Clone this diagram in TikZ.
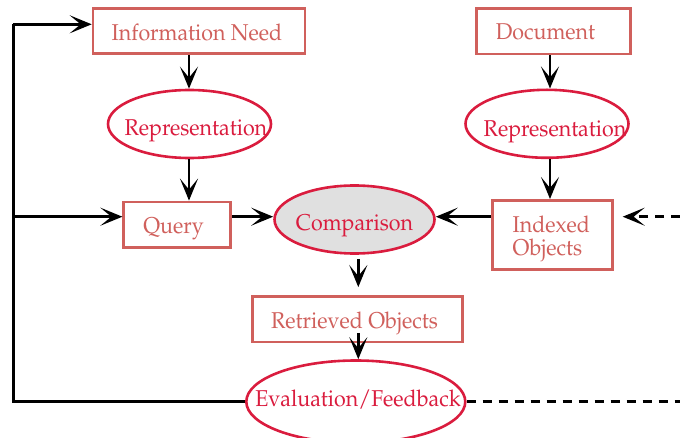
\documentclass[tikz,border=0pt]{standalone}
\usepackage[T1]{fontenc}
\usepackage{mathpazo}
\usepackage{graphicx}
\usetikzlibrary{arrows.meta,calc,shapes.geometric}
\definecolor{boxred}{RGB}{208,96,92}
\definecolor{ellred}{RGB}{218,28,62}
\definecolor{compgray}{RGB}{224,224,224}
% centred text: #1 horizontal offset, #2 baseline below node centre
\newcommand{\ztxt}[3]{\makebox[0pt]{\hspace*{#1}\hspace*{#1}\raisebox{-#2}[0pt][0pt]{\scalebox{1}[1.07]{#3}}}}
% left-aligned text starting at #1 from node centre
\newcommand{\ltxt}[3]{\makebox[0pt][l]{\hspace*{#1}\raisebox{-#2}[0pt][0pt]{\scalebox{1}[1.07]{#3}}}}
\tikzset{
  every node/.style={font=\fontsize{10.7}{12}\selectfont},
  rbox/.style={draw=boxred, line width=1.3pt, text=boxred, inner sep=0pt},
  rell/.style={draw=ellred, line width=1.3pt, text=ellred, ellipse, inner sep=0pt},
  tip/.style={-{Stealth[length=11pt,width=9pt,inset=5.5pt]}},
  conn/.style={line width=1.4pt, tip},
  plain/.style={line width=1.4pt},
  dashy/.style={line width=1.4pt, dash pattern=on 4.5pt off 3.5pt},
}
\begin{document}
\begin{tikzpicture}[x=0.5pt,y=-0.5pt]
\useasboundingbox (0,0) rectangle (680,438);
% nodes
\node[rbox, minimum width=106pt, minimum height=22.5pt] (info) at (199,31.3) {\ztxt{-1pt}{4.4pt}{Information Need}};
\node[rell, minimum width=81.5pt, minimum height=34pt] (repL) at (189.5,124) {\ztxt{3.2pt}{6pt}{Representation}};
\node[rbox, minimum width=53.5pt, minimum height=22.8pt] (query) at (177.2,224.7) {\ztxt{-1.85pt}{4.5pt}{Query}};
\node[rell, fill=compgray, minimum width=80pt, minimum height=34pt] (comp) at (354.5,219.5) {\ztxt{0pt}{5.75pt}{Comparison}};
\node[rbox, minimum width=60pt, minimum height=34.7pt] (idx) at (552.2,235) {\ltxt{-19.75pt}{-1.5pt}{Indexed}\ltxt{-19.75pt}{10.25pt}{Objects}};
\node[rbox, minimum width=77pt, minimum height=22.7pt] (doc) at (553.5,31.2) {\ztxt{-4pt}{4.4pt}{Document}};
\node[rell, minimum width=81.5pt, minimum height=34pt] (repR) at (547,123.8) {\ztxt{4pt}{6.2pt}{Representation}};
\node[rbox, minimum width=104.8pt, minimum height=22.8pt] (ret) at (357.5,319.2) {\ztxt{-1.5pt}{4.5pt}{Retrieved Objects}};
\node[rell, minimum width=109.5pt, minimum height=41.2pt] (eval) at (355.8,401.7) {\ztxt{1.1pt}{2.6pt}{Evaluation/Feedback}};
% helper coordinates
\coordinate (L1) at (13.3,24.3);
\coordinate (L2) at (13.3,216.7);
\coordinate (L3) at (13.3,401.7);
\coordinate (A) at (189,0);
\coordinate (B) at (550,0);
\coordinate (C) at (358.3,0);
\coordinate (R2) at (680,216.7);
\coordinate (R3) at (680,401.7);
\coordinate (dtip) at (622.7,216.7);
% left feedback loop
\draw[plain] (eval.west |- L3) -- (L3) -- (L1);
\draw[conn] (L1) -- (info.west |- L1);
\draw[conn] (L2) -- (query.west |- L2);
% vertical arrows
\draw[conn] (info.south -| A) -- (repL.north -| A);
\draw[conn] (repL.south -| A) -- (query.north -| A);
\draw[conn] (doc.south -| B) -- (repR.north -| B);
\draw[conn] (repR.south -| B) -- (idx.north -| B);
% to comparison
\draw[conn] (query.east |- L2) -- (comp.west |- L2);
\draw[conn] (idx.west |- L2) -- (comp.east |- L2);
% comparison -> retrieved -> evaluation
\draw[conn, shorten <=2pt, shorten >=4pt] (comp.south -| C) -- (ret.north -| C);
\draw[conn] ($(ret.south -| C)+(0,-10.5)$) -- (eval.north -| C);
% dashed
\draw[dashy, tip] (R2) -- (dtip);
\draw[dashy] (eval.east |- R3) -- (R3);
\end{tikzpicture}
\end{document}
